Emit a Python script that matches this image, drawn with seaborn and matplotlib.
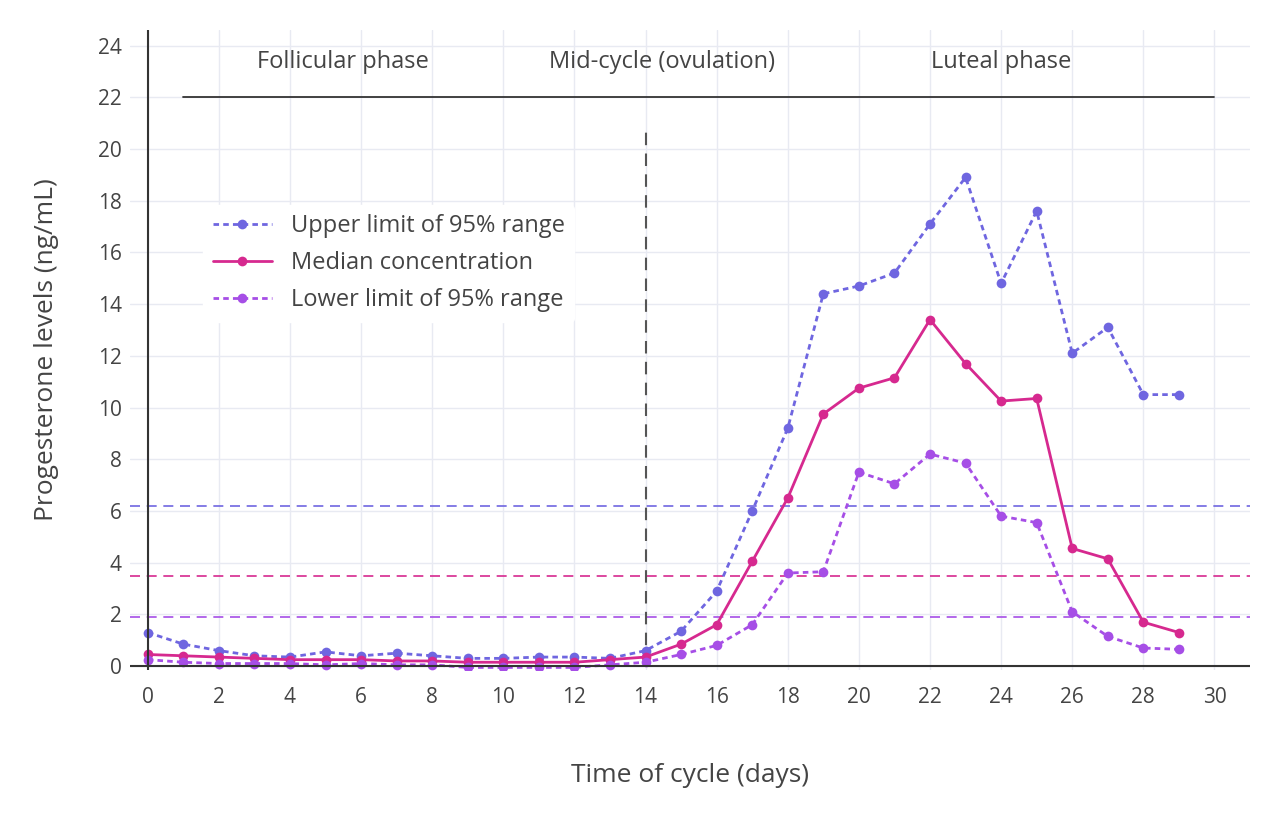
import numpy as np
import pandas as pd
import seaborn as sns
import matplotlib.pyplot as plt

days = list(range(30))
upper = [1.3, 0.85, 0.6, 0.4, 0.35, 0.55, 0.4, 0.5, 0.4, 0.3, 0.3, 0.35, 0.35, 0.3, 0.6,
         1.35, 2.9, 6.0, 9.2, 14.4, 14.7, 15.2, 17.1, 18.9, 14.8, 17.6, 12.1, 13.1, 10.5, 10.5]
median = [0.45, 0.4, 0.35, 0.3, 0.25, 0.25, 0.25, 0.2, 0.2, 0.15, 0.15, 0.15, 0.15, 0.25, 0.35,
          0.85, 1.6, 4.05, 6.5, 9.75, 10.75, 11.15, 13.4, 11.7, 10.25, 10.35, 4.55, 4.15, 1.7, 1.3]
lower = [0.25, 0.15, 0.1, 0.1, 0.1, 0.05, 0.1, 0.05, 0.05, -0.05, -0.05, -0.05, -0.05, 0.05, 0.15,
         0.45, 0.8, 1.6, 3.6, 3.65, 7.5, 7.05, 8.2, 7.85, 5.8, 5.55, 2.1, 1.15, 0.7, 0.65]
ref_levels = [6.2, 3.5, 1.9]
phases = [("Follicular phase", 5.5), ("Mid-cycle (ovulation)", 14.45), ("Luteal phase", 24.0)]

c_up, c_med, c_low = "#6f66e0", "#d6298f", "#a64ee6"

sns.set_style("white")
plt.rcParams['font.family'] = ['Open Sans', 'DejaVu Sans']

fig = plt.figure(figsize=(12.8, 8.13), dpi=100)
ax = fig.add_axes([130 / 1280, 1 - 670 / 813, 1120 / 1280, 640 / 813])

df = pd.DataFrame({"day": days, "upper": upper, "median": median, "lower": lower})
sns.lineplot(data=df, x="day", y="upper", ax=ax, color=c_up, linestyle=(0, (2, 1.5)), lw=2,
             marker="o", markersize=7, markeredgewidth=0, label="Upper limit of 95% range")
sns.lineplot(data=df, x="day", y="median", ax=ax, color=c_med, lw=2,
             marker="o", markersize=7, markeredgewidth=0, label="Median concentration")
sns.lineplot(data=df, x="day", y="lower", ax=ax, color=c_low, linestyle=(0, (2, 1.5)), lw=2,
             marker="o", markersize=7, markeredgewidth=0, label="Lower limit of 95% range")

for lvl, c in zip(ref_levels, [c_up, c_med, c_low]):
    ax.axhline(lvl, color=c, ls=(0, (6, 4)), lw=1.2, zorder=1)
ax.plot([14, 14], [0, 20.8], color="#555555", ls=(0, (6, 4)), lw=1.5, zorder=1)
ax.plot([1, 30], [22.0, 22.0], color="#333333", lw=1.3)
for txt, xpos in phases:
    ax.text(xpos, 23.35, txt, ha="center", va="center", fontsize=17, color="#444444")

ax.set_xlim(-0.5, 31)
ax.set_ylim(-0.15, 24.6)
ax.set_xticks(range(0, 31, 2))
ax.set_yticks(range(0, 25, 2))
ax.grid(True, color="#e8eaf2", lw=1)
ax.set_axisbelow(True)
for s in ["top", "right", "left", "bottom"]:
    ax.spines[s].set_visible(False)
ax.axhline(0, color="#333333", lw=1.5, zorder=2)
ax.axvline(0, color="#333333", lw=1.5, zorder=2)
ax.tick_params(labelsize=15, colors="#444444", length=0, pad=6)
ax.tick_params(axis="x", length=6, color="#444444", direction="out")
ax.set_xlabel("Time of cycle (days)", fontsize=19, color="#444444", labelpad=40)
ax.set_ylabel("Progesterone levels (ng/mL)", fontsize=19, color="#444444", labelpad=28)

leg = ax.legend(loc="upper left", bbox_to_anchor=(0.055, 0.745), fontsize=17, frameon=True,
                facecolor="white", edgecolor="white", framealpha=1, handlelength=2.5,
                labelcolor="#444444", labelspacing=0.55)
fig.savefig("out.png", dpi=100, facecolor="white")
